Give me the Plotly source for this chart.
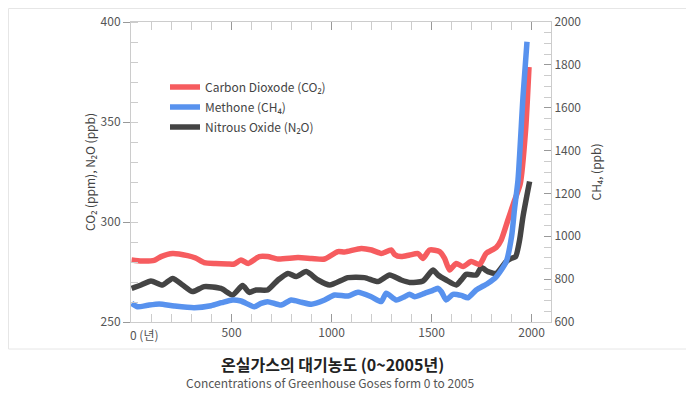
import plotly.graph_objects as go

# ---- Data ----
co2_years = [0, 50, 113, 147, 205, 280, 320, 363, 420, 480, 513, 547, 583, 638, 680, 732, 832, 900, 965,
             1032, 1065, 1148, 1200, 1248, 1298, 1315, 1348, 1390, 1432, 1457, 1490, 1540, 1565, 1590,
             1623, 1657, 1698, 1740, 1773, 1823, 1848, 1880, 1910, 1943, 1970, 1987]
co2_vals = [281, 280.5, 280.8, 282.7, 284.3, 283.2, 282, 279.7, 279.2, 279, 279, 281, 279.3, 282.7, 282.7,
            281.5, 282.2, 281.8, 281.5, 285.2, 285, 286.8, 286, 284.3, 286, 283.8, 282.7, 283.5, 284.2,
            281.8, 286, 285.2, 281.8, 276, 279.3, 277.7, 280.2, 278.8, 284.3, 287.2, 291, 300.5, 309.5,
            319, 346, 377.5]

ch4_years = [0, 30, 80, 138, 213, 313, 397, 450, 505, 547, 613, 647, 680, 748, 798, 850, 898, 965, 1015,
             1082, 1132, 1198, 1248, 1273, 1323, 1365, 1390, 1415, 1465, 1500, 1532, 1550, 1573, 1607,
             1648, 1682, 1723, 1780, 1823, 1873, 1900, 1915, 1932, 1957, 1977]
ch4_vals = [687, 671, 678, 684, 675, 667, 676, 690, 703, 698, 671, 687, 695, 679, 703, 692, 683, 703, 726,
            721, 739, 718, 695, 734, 703, 718, 729, 718, 734, 745, 757, 740, 703, 729, 724, 713, 749, 780,
            811, 881, 1000, 1130, 1263, 1651, 1908]

n2o_years = [0, 47, 97, 155, 205, 255, 305, 363, 447, 505, 555, 588, 622, 680, 732, 782, 823, 873, 932,
             990, 1082, 1165, 1232, 1290, 1348, 1390, 1457, 1507, 1532, 1573, 1623, 1648, 1673, 1723,
             1748, 1782, 1823, 1873, 1898, 1920, 1940, 1957, 1990]
n2o_vals = [266.8, 268.5, 270.5, 268.5, 271.8, 268.5, 265.2, 267.7, 266.8, 263.5, 268.2, 264.8, 266, 266,
            271, 274.3, 272.7, 275.2, 271, 268.5, 272.2, 272.2, 270.2, 273.5, 271, 269.8, 270.5, 276,
            273.5, 271, 268.5, 271, 273.8, 273.5, 277.2, 275.2, 274.3, 280.2, 281.8, 282.7, 291, 302.7,
            320.2]

x_tick_vals = [0, 500, 1000, 1500, 2000]
x_tick_text = ["", "500", "1000", "1500", "2000"]

RED = "#f65c5f"
BLUE = "#5892ee"
DARK = "#444444"
FONT = "Noto Sans CJK KR, Noto Sans, sans-serif"
LW = 5.5

fig = go.Figure()
fig.add_trace(go.Scatter(x=ch4_years, y=ch4_vals, yaxis="y2", name="Methone (CH₄)", mode="lines",
                         legendgroup="b",
                         line=dict(color=BLUE, width=LW, shape="spline", smoothing=0.6), legendrank=2))
fig.add_trace(go.Scatter(x=n2o_years, y=n2o_vals, name="Nitrous Oxide (N₂O)", mode="lines",
                         legendgroup="c",
                         line=dict(color=DARK, width=LW, shape="spline", smoothing=0.6), legendrank=3))
fig.add_trace(go.Scatter(x=co2_years, y=co2_vals, name="Carbon Dioxode (CO₂)", mode="lines",
                         legendgroup="a",
                         line=dict(color=RED, width=LW, shape="spline", smoothing=0.6), legendrank=1))

# page body has an 8px margin: figure is 8px smaller and coordinates below are screen pixels
OFF = 8
W, H = 694 - OFF, 394 - OFF
L, T = 131 - OFF, 22 - OFF
R = W - (551 - OFF)
B = H - (322 - OFF)
pw, ph = W - L - R, H - T - B

def px_x(p):
    return (p - OFF - L) / pw

def px_y(p):
    return (H - B - (p - OFF)) / ph

fig.update_layout(
    width=W, height=H,
    margin=dict(l=L, r=R, t=T, b=B, autoexpand=False),
    paper_bgcolor="white", plot_bgcolor="white",
    font=dict(family=FONT, size=12, color="#555"),
    showlegend=True,
    legend=dict(x=px_x(165), y=px_y(72.5), xanchor="left", yanchor="top",
                bgcolor="rgba(0,0,0,0)", font=dict(size=12, color="#444"),
                traceorder="grouped", tracegroupgap=1, itemwidth=30),
    xaxis=dict(range=[-3, 2097], tickmode="array", tickvals=x_tick_vals, ticktext=x_tick_text,
               ticks="inside", ticklen=8, tickcolor="#999", showline=True, linecolor="#ccc",
               mirror="ticks", showgrid=False, zeroline=False,
               tickfont=dict(size=12, color="#555"),
               minor=dict(tick0=0, dtick=100, ticks="inside", ticklen=8, tickcolor="#ccc")),
    yaxis=dict(range=[250, 400], tick0=250, dtick=50, ticks="outside", ticklen=7, tickcolor="#999",
               showline=True, linecolor="#ccc", showgrid=False, zeroline=False,
               tickfont=dict(size=12, color="#555"),
               title=dict(text="CO₂ (ppm), N₂O (ppb)", font=dict(size=12, color="#444"), standoff=2),
               minor=dict(tick0=250, dtick=10, ticks="inside", ticklen=7, tickcolor="#ccc")),
    yaxis2=dict(range=[600, 2000], tick0=600, dtick=200, overlaying="y", side="right",
                ticks="inside", ticklen=7, tickcolor="#999", showline=True, linecolor="#ccc",
                showgrid=False, zeroline=False, tickfont=dict(size=12, color="#555"),
                title=dict(text="CH₄, (ppb)", font=dict(size=12, color="#444"), standoff=12),
                minor=dict(tick0=600, dtick=50, ticks="inside", ticklen=7, tickcolor="#ccc")),
    shapes=[dict(type="rect", xref="paper", yref="paper", x0=px_x(8.5), x1=px_x(690.5),
                 y0=px_y(349), y1=px_y(8.5), line=dict(color="#e6e6e6", width=1), layer="below")],
    annotations=[
        dict(text="0 (년)", x=0, y=0, xref="x", yref="paper", xanchor="left", yanchor="top",
             yshift=-2, xshift=-4, showarrow=False, font=dict(size=12, color="#555")),
        dict(text="온실가스의 대기농도 (0~2005년)", x=px_x(332), y=px_y(364), xref="paper", yref="paper",
             xanchor="center", yanchor="middle", showarrow=False,
             font=dict(size=16, color="#222", family=FONT, weight="bold")),
        dict(text="Concentrations of Greenhouse Goses form 0 to 2005", x=px_x(330), y=px_y(382),
             xref="paper", yref="paper", xanchor="center", yanchor="middle", showarrow=False,
             font=dict(size=12, color="#555")),
    ],
)

fig.write_html("out.html")
